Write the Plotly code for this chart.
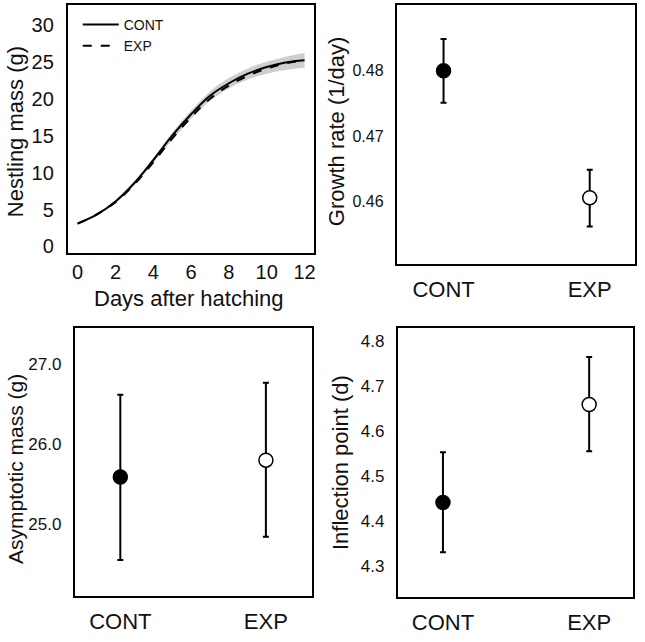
import plotly.graph_objects as go

# ---------------- data ----------------
days = [0, 1, 2, 3, 4, 5, 6, 7, 8, 9, 10, 11, 12]
cont_mass = [3.1, 4.3, 6.1, 8.6, 11.7, 15.0, 17.9, 20.4, 22.1, 23.4, 24.3, 24.9, 25.2]
exp_mass = [3.1, 4.3, 6.0, 8.4, 11.4, 14.6, 17.5, 20.0, 21.8, 23.1, 24.1, 24.8, 25.2]
band_lo = [3.0, 4.2, 5.9, 8.3, 11.3, 14.4, 17.3, 19.7, 21.4, 22.6, 23.4, 23.9, 24.2]
band_hi = [3.2, 4.4, 6.2, 8.8, 12.0, 15.4, 18.4, 21.0, 22.8, 24.1, 25.0, 25.7, 26.2]

groups = ["CONT", "EXP"]
group_pos = [1, 2]

growth_mean = [0.4800, 0.4605]
growth_hi = [0.4849, 0.4648]
growth_lo = [0.4751, 0.4561]

asym_mean = [25.59, 25.80]
asym_hi = [26.62, 26.77]
asym_lo = [24.55, 24.84]

infl_mean = [4.441, 4.659]
infl_hi = [4.553, 4.765]
infl_lo = [4.330, 4.555]

mass_ticks = [0, 5, 10, 15, 20, 25, 30]
day_ticks = [0, 2, 4, 6, 8, 10, 12]
growth_ticks = [0.46, 0.47, 0.48]
asym_ticks = [25.0, 26.0, 27.0]
infl_ticks = [4.3, 4.4, 4.5, 4.6, 4.7, 4.8]

# ---------------- style ----------------
FONT = "Liberation Sans, Arial, Helvetica, sans-serif"
TXT = "#111111"
W, H = 645, 642

def px_x(a, b):
    return [a / W, b / W]

def px_y(top, bottom):
    return [1 - bottom / H, 1 - top / H]

fig = go.Figure()

# Panel 1: growth curves
fig.add_trace(go.Scatter(x=days, y=band_hi, mode="lines", line=dict(width=0, shape="spline"),
                         showlegend=False, hoverinfo="skip", xaxis="x", yaxis="y"))
fig.add_trace(go.Scatter(x=days, y=band_lo, mode="lines", line=dict(width=0, shape="spline"),
                         fill="tonexty", fillcolor="rgba(190,190,190,0.75)",
                         showlegend=False, hoverinfo="skip", xaxis="x", yaxis="y"))
fig.add_trace(go.Scatter(x=days, y=cont_mass, mode="lines", name="CONT",
                         line=dict(color="black", width=2, shape="spline"),
                         xaxis="x", yaxis="y"))
fig.add_trace(go.Scatter(x=days, y=exp_mass, mode="lines", name="EXP",
                         line=dict(color="black", width=2, dash="dash", shape="spline"),
                         xaxis="x", yaxis="y"))

def point_trace(mean, hi, lo, xa, ya):
    return go.Scatter(
        x=group_pos, y=mean, mode="markers", showlegend=False,
        marker=dict(size=14, color=["black", "white"], line=dict(color="black", width=1.5)),
        error_y=dict(type="data", symmetric=False,
                     array=[h - m for h, m in zip(hi, mean)],
                     arrayminus=[m - l for m, l in zip(mean, lo)],
                     color="black", thickness=2, width=3),
        xaxis=xa, yaxis=ya)

fig.add_trace(point_trace(growth_mean, growth_hi, growth_lo, "x2", "y2"))
fig.add_trace(point_trace(asym_mean, asym_hi, asym_lo, "x3", "y3"))
fig.add_trace(point_trace(infl_mean, infl_hi, infl_lo, "x4", "y4"))

box = dict(showline=True, mirror=True, linecolor="black", linewidth=2,
           showgrid=False, zeroline=False, ticks="")

fig.update_layout(
    width=W, height=H, margin=dict(l=0, r=0, t=0, b=0),
    paper_bgcolor="white", plot_bgcolor="white",
    font=dict(family=FONT, color=TXT),
    showlegend=True,
    legend=dict(x=78 / W, y=1 - 9 / H, xanchor="left", yanchor="top",
                traceorder="normal", itemwidth=36,
                bgcolor="rgba(0,0,0,0)", font=dict(size=14, family=FONT, color=TXT),
                tracegroupgap=0),
    xaxis=dict(**box, domain=px_x(68, 315), range=[-0.52, 12.5], anchor="y",
               tickvals=day_ticks, tickfont=dict(size=20), ticklabelstandoff=0),
    yaxis=dict(**box, domain=px_y(5, 255), range=[-0.94, 32.7], anchor="x",
               tickvals=mass_ticks, tickfont=dict(size=20), ticklabelstandoff=8),
    xaxis2=dict(**box, domain=px_x(398, 637), range=[0.68, 2.31], anchor="y2",
                tickvals=group_pos, ticktext=groups, tickfont=dict(size=22), ticklabelstandoff=4),
    yaxis2=dict(**box, domain=px_y(5, 266), range=[0.45027, 0.49012], anchor="x2",
                tickvals=growth_ticks, tickformat=".2f", tickfont=dict(size=16), ticklabelstandoff=8),
    xaxis3=dict(**box, domain=px_x(75, 313), range=[0.687, 2.317], anchor="y3",
                tickvals=group_pos, ticktext=groups, tickfont=dict(size=22), ticklabelstandoff=4),
    yaxis3=dict(**box, domain=px_y(330, 600), range=[24.095, 27.457], anchor="x3",
                tickvals=asym_ticks, tickformat=".1f", tickfont=dict(size=17), ticklabelstandoff=8),
    xaxis4=dict(**box, domain=px_x(399, 635), range=[0.691, 2.30], anchor="y4",
                tickvals=group_pos, ticktext=groups, tickfont=dict(size=22), ticklabelstandoff=4),
    yaxis4=dict(**box, domain=px_y(330, 601), range=[4.230, 4.8295], anchor="x4",
                tickvals=infl_ticks, tickformat=".1f", tickfont=dict(size=17), ticklabelstandoff=8),
)

titles = [
    ("Nestling mass (g)", 15, 132, -90, 22),
    ("Growth rate (1/day)", 337, 132, -90, 22),
    ("Asymptotic mass (g)", 15, 472, -90, 21),
    ("Inflection point (d)", 341, 465, -90, 22),
    ("Days after hatching", 190, 300, 0, 22),
]
for text, cx, cy, ang, fs in titles:
    fig.add_annotation(text=text, x=cx / W, y=1 - cy / H, xref="paper", yref="paper",
                       xanchor="center", yanchor="middle", showarrow=False, textangle=ang,
                       font=dict(size=fs, family=FONT, color=TXT))

fig.write_html("out.html")
